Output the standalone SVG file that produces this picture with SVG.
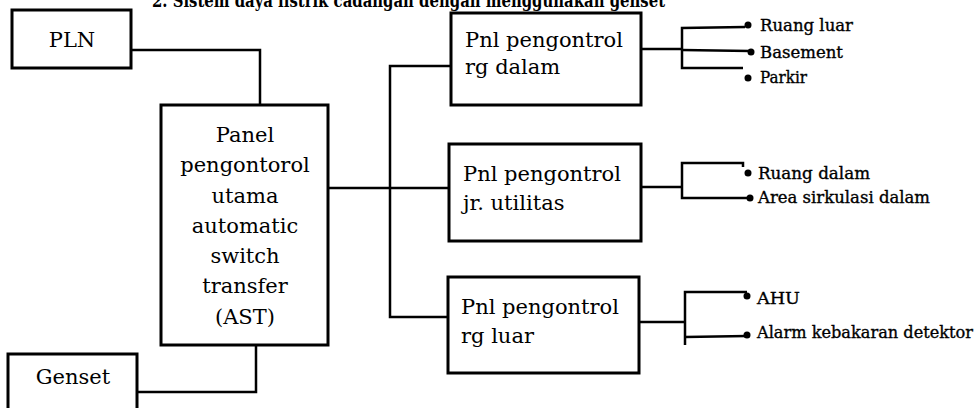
<svg xmlns="http://www.w3.org/2000/svg" width="977" height="408" viewBox="0 0 977 408">
<style>
.box{fill:#fff;stroke:#000;stroke-width:3}
.t{font-family:"DejaVu Serif","Liberation Serif",serif;font-size:21px;fill:#000}
.c{text-anchor:middle}
.lbl{font-family:"DejaVu Serif","Liberation Serif",serif;font-size:16px;fill:#000;stroke:#000;stroke-width:0.35}
.ln{fill:none;stroke:#000;stroke-width:2.5}
.dot{fill:#000}
.title{font-family:"DejaVu Serif","Liberation Serif",serif;font-size:19px;font-weight:bold;fill:#000}
</style>
<rect width="977" height="408" fill="#fff"/>
<text class="title" x="152" y="7" textLength="513" lengthAdjust="spacingAndGlyphs">2. Sistem daya listrik cadangan dengan menggunakan genset</text>
<g id="connectors">
<polyline class="ln" points="131,50 260,50 260,105"/>
<polyline class="ln" points="136,392 256,392 256,345"/>
<line class="ln" x1="328" y1="188" x2="449" y2="188"/>
<polyline class="ln" points="451,66 390,66 390,317 448,317"/>
<line class="ln" x1="641" y1="49" x2="683" y2="49"/>
<polyline class="ln" points="745,27 682,28 682,68 743,68"/>
<line class="ln" x1="682" y1="50" x2="750" y2="51"/>
<line class="ln" x1="641" y1="187" x2="682" y2="187"/>
<polyline class="ln" points="743,167 743,163 682,163 682,198 750,198"/>
<line class="ln" x1="639" y1="322" x2="685" y2="322"/>
<polyline class="ln" points="747,292 685,292 685,345"/>
<line class="ln" x1="685" y1="337" x2="747" y2="336"/>
<circle class="dot" cx="748" cy="25" r="3.5"/>
<circle class="dot" cx="751" cy="52" r="3.5"/>
<circle class="dot" cx="748" cy="78" r="3.5"/>
<circle class="dot" cx="748" cy="173" r="3.5"/>
<circle class="dot" cx="750" cy="198" r="3.5"/>
<circle class="dot" cx="747" cy="296" r="3.5"/>
<circle class="dot" cx="747" cy="335" r="3.5"/>
</g>
<g id="pln">
<rect class="box" x="12" y="10" width="119" height="58"/>
<text class="t c" x="72" y="47">PLN</text>
</g>
<g id="genset">
<rect class="box" x="8" y="354" width="129" height="70"/>
<text class="t c" x="73" y="384">Genset</text>
</g>
<g id="panel-utama">
<rect class="box" x="161" y="105" width="167" height="240"/>
<text class="t c" x="245" y="142">Panel</text>
<text class="t c" x="245" y="172">pengontorol</text>
<text class="t c" x="245" y="203">utama</text>
<text class="t c" x="245" y="233">automatic</text>
<text class="t c" x="245" y="263">switch</text>
<text class="t c" x="245" y="293">transfer</text>
<text class="t c" x="245" y="324">(AST)</text>
</g>
<g id="pnl-rg-dalam">
<rect class="box" x="451" y="13" width="190" height="92"/>
<text class="t" x="465" y="47">Pnl pengontrol</text>
<text class="t" x="465" y="74">rg dalam</text>
</g>
<g id="pnl-jr-utilitas">
<rect class="box" x="449" y="144" width="192" height="97"/>
<text class="t" x="463" y="181">Pnl pengontrol</text>
<text class="t" x="463" y="210">jr. utilitas</text>
</g>
<g id="pnl-rg-luar">
<rect class="box" x="448" y="277" width="191" height="96"/>
<text class="t" x="461" y="314">Pnl pengontrol</text>
<text class="t" x="461" y="343">rg luar</text>
</g>
<g id="labels">
<text class="lbl" x="760" y="31" textLength="93" lengthAdjust="spacingAndGlyphs">Ruang luar</text>
<text class="lbl" x="760" y="58" textLength="83" lengthAdjust="spacingAndGlyphs">Basement</text>
<text class="lbl" x="760" y="83" textLength="47" lengthAdjust="spacingAndGlyphs">Parkir</text>
<text class="lbl" x="758" y="179" textLength="112" lengthAdjust="spacingAndGlyphs">Ruang dalam</text>
<text class="lbl" x="758" y="203" textLength="172" lengthAdjust="spacingAndGlyphs">Area sirkulasi dalam</text>
<text class="lbl" x="757" y="304" textLength="43" lengthAdjust="spacingAndGlyphs">AHU</text>
<text class="lbl" x="757" y="338" textLength="216" lengthAdjust="spacingAndGlyphs">Alarm kebakaran detektor</text>
</g>
</svg>
